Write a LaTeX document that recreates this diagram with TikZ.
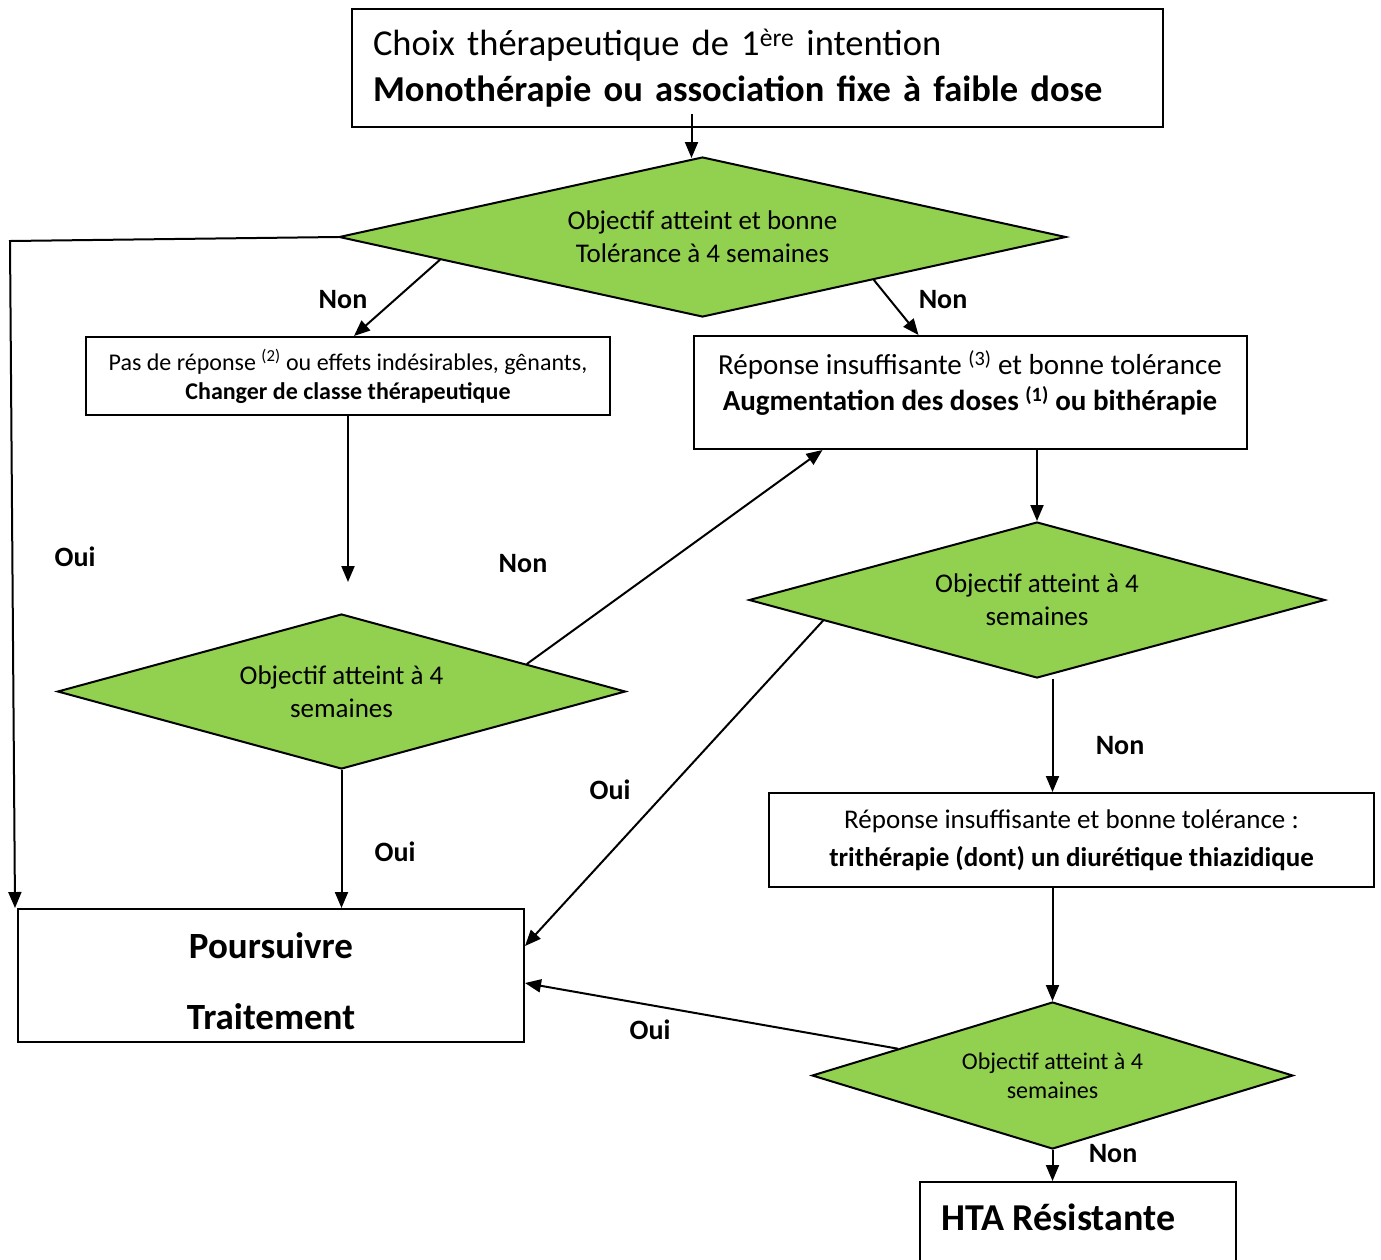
\documentclass[tikz,border=0pt]{standalone}
\usepackage{fontspec}
\setmainfont{Carlito}
\newfontfamily\titlefont[WordSpace=0.75]{Carlito}
\usetikzlibrary{shapes.geometric,arrows.meta,calc}
\definecolor{decisiongreen}{HTML}{92D050}

\begin{document}
\begin{tikzpicture}[x=1pt, y=-1pt, line width=2pt,
  >={Triangle[length=16pt,width=13pt]},
  box/.style={rectangle,draw,inner sep=0pt,align=center},
  decision/.style={diamond,draw,fill=decisiongreen,inner sep=0pt,align=center,font=\fontsize{27}{33}\selectfont},
  answer/.style={font=\bfseries\fontsize{28}{32}\selectfont}]

\useasboundingbox (0,0) rectangle (1381,1259);

% boxes
\node[box,minimum width=811pt,minimum height=118pt,text width=769pt,align=left,font=\titlefont\fontsize{36.5}{46}\selectfont] (start) at (757.5,68) {Choix thérapeutique de 1\textsuperscript{ère} intention\\\textbf{Monothérapie ou association fixe à faible dose}};
\node[box,minimum width=524pt,minimum height=78pt,font=\fontsize{24}{29}\selectfont] (nochange) at (348,376) {Pas de réponse \textsuperscript{(2)} ou effets indésirables, gênants,\\\textbf{Changer de classe thérapeutique}};
\node[box,minimum width=553pt,minimum height=113pt] (raise) at (970.5,392.5) {};
\node[font=\fontsize{29}{36}\selectfont,align=center] (raisetext) at (970,383) {Réponse insuffisante \textsuperscript{(3)} et bonne tolérance\\\textbf{Augmentation des doses \textsuperscript{(1)} ou bithérapie}};
\node[box,minimum width=506pt,minimum height=133pt] (keep) at (271,975.5) {};
\node[font=\bfseries\fontsize{37}{71}\selectfont,align=center] (keeptext) at (271,981) {Poursuivre\\Traitement};
\node[box,minimum width=605pt,minimum height=94pt,font=\fontsize{27}{38}\selectfont] (triple) at (1071.5,840) {Réponse insuffisante et bonne tolérance :\\\textbf{trithérapie (dont) un diurétique thiazidique}};
\node[box,minimum width=316pt,minimum height=140pt,anchor=north] (hta) at (1078,1181) {};
\node[anchor=west,font=\bfseries\fontsize{38}{44}\selectfont] (htatext) at (937,1217) {HTA Résistante};

% decisions
\node[decision,aspect=4.5,minimum width=727pt,minimum height=160pt] (d1) at (702.5,237) {Objectif atteint et bonne\\Tolérance à 4 semaines};
\node[decision,aspect=3.6,minimum width=568pt,minimum height=155pt] (d2) at (341.5,691.5) {Objectif atteint à 4\\semaines};
\node[decision,aspect=3.7,minimum width=576pt,minimum height=156pt] (d3) at (1037,600) {Objectif atteint à 4\\semaines};
\node[decision,aspect=3.3,minimum width=481pt,minimum height=147pt,font=\fontsize{24}{29}\selectfont] (d4) at (1052.5,1075.5) {Objectif atteint à 4\\semaines};

% connectors
\coordinate (bend) at (10,241);
\coordinate (gap) at (348,582);
\draw[->] ([xshift=-11pt,yshift=14pt]d1.north |- start.south) -- ([xshift=-11pt,yshift=-2pt]d1.north);
\draw[->] (d1.west) -- (bend) -- ([xshift=-2pt]keep.north west);
\draw[->] ($(d1.west)!0.28!(d1.south)$) -- ([xshift=6pt]nochange.north);
\draw[->] ($(d1.south)!0.47!(d1.east)$) -- ([xshift=-52pt]raise.north);
\draw[->] (nochange.south) -- (gap);
\draw[->] ($(d2.north)!0.65!(d2.east)$) -- ([xshift=-148pt]raise.south);
\draw[->] (d2.south) -- (d2.south |- keep.north);
\draw[->] (d3.north |- raise.south) -- (d3.north);
\draw[->] ($(d3.west)!0.26!(d3.south)$) -- ([yshift=29.5pt]keep.east);
\draw[->] (d4.north |- d3.south) -- (d4.north |- triple.north);
\draw[->] (d4.north |- triple.south) -- (d4.north);
\draw[->] ($(d4.west)!0.36!(d4.north)$) -- ([yshift=-7.5pt]keep.east);
\draw[->] (d4.south) -- (d4.south |- hta.north);

% labels
\node[answer] (non1) at (343,300) {Non};
\node[answer] (non2) at (943,300) {Non};
\node[answer] (non3) at (523,564) {Non};
\node[answer] (non4) at (1120,746) {Non};
\node[answer] (non5) at (1113,1154) {Non};
\node[answer] (oui1) at (75,557) {Oui};
\node[answer] (oui2) at (395,852) {Oui};
\node[answer] (oui3) at (610,790) {Oui};
\node[answer] (oui4) at (650,1030) {Oui};

\end{tikzpicture}
\end{document}
